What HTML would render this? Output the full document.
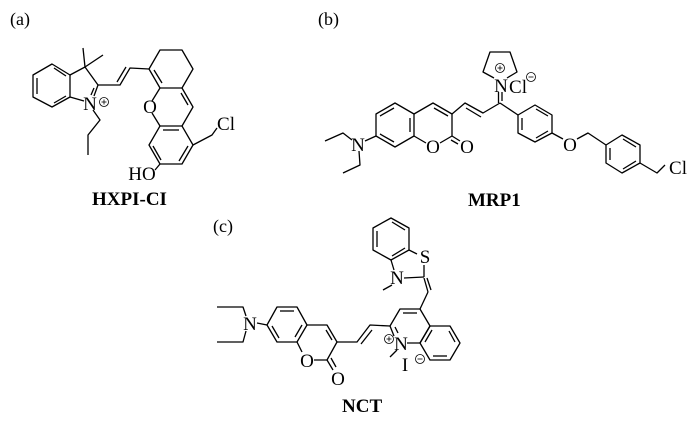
<!DOCTYPE html>
<html><head><meta charset="utf-8"><style>
html,body{margin:0;padding:0;background:#fff;}
svg{display:block;}
text{font-family:"Liberation Serif","Times New Roman",serif;fill:#000;}
.a{font-size:19px;text-anchor:middle;}
.b{font-size:19px;font-weight:bold;}
.l{font-size:18px;}
</style></head><body>
<svg width="700" height="427" viewBox="0 0 700 427" xmlns="http://www.w3.org/2000/svg">
<g fill="none" stroke="#000" stroke-width="1.3" stroke-linejoin="round">
<!-- (a) -->
<polygon points="52,64 70,75 70,97 52,107 33,97 33,75"/>
<line x1="37" y1="78" x2="37" y2="94"/><line x1="54" y1="68" x2="66" y2="76"/><line x1="66" y1="96" x2="54" y2="103"/>
<polyline points="70,75 85,67 98,85 94,96"/>
<line x1="94" y1="88" x2="91" y2="95"/>
<line x1="70" y1="97" x2="84" y2="101"/>
<line x1="85" y1="67" x2="83" y2="48"/><line x1="85" y1="67" x2="103" y2="55"/>
<polyline points="93,110 100,120 88,135 88,155"/>
<polyline points="98,85 120,85 130,68 149,69"/>
<line x1="117" y1="82" x2="126" y2="67"/>
<polyline points="149,69 160,50 182,50 193,69 182,88 160,88 149,69"/>
<line x1="154" y1="70" x2="162" y2="83"/>
<polyline points="160,88 152,101"/><polyline points="152,113 160,126"/>
<polyline points="182,88 193,107 182,126"/>
<line x1="181" y1="93" x2="188" y2="105"/>
<polygon points="160,126 182,126 193,145 182,164 160,164 149,145"/>
<line x1="163" y1="130" x2="179" y2="130"/><line x1="188" y1="146" x2="179" y2="161"/><line x1="161" y1="160" x2="153" y2="146"/>
<line x1="160" y1="164" x2="155" y2="170"/>
<polyline points="193,145 212,135 217,128"/>
<!-- (b) -->
<polygon points="395,103 414,114 414,136 395,147 376,136 376,114"/>
<line x1="380" y1="116" x2="394" y2="108"/><line x1="380" y1="134" x2="394" y2="142"/><line x1="410" y1="118" x2="410" y2="132"/>
<polyline points="414,114 433,103 452,114 452,136 440,143"/>
<line x1="414" y1="136" x2="426" y2="143"/>
<line x1="434" y1="108" x2="448" y2="116"/>
<line x1="452" y1="136" x2="460" y2="141"/><line x1="451" y1="140" x2="458" y2="144"/>
<line x1="376" y1="136" x2="365" y2="141"/>
<polyline points="352,140 343,133 325,141"/>
<polyline points="359,151 360,165 343,173"/>
<polyline points="452,114 465,103 483,113 500,103"/>
<line x1="466" y1="108" x2="481" y2="117"/>
<line x1="498.5" y1="103" x2="498.5" y2="92"/><line x1="502" y1="101" x2="502" y2="92"/>
<polyline points="494,78 483,72 490,52 510,52 517,72 507,78"/>
<line x1="500" y1="103" x2="518" y2="115"/>
<polygon points="518,115 535,105 552,115 552,133 535,142 518,133"/>
<line x1="536" y1="109" x2="548" y2="116"/><line x1="548" y1="131" x2="536" y2="138"/><line x1="522" y1="118" x2="522" y2="130"/>
<line x1="552" y1="133" x2="563" y2="139"/>
<polyline points="577,139 588,133 606,145"/>
<polygon points="606,145 622,135 640,145 640,163 622,173 606,163"/>
<line x1="623" y1="139" x2="636" y2="147"/><line x1="636" y1="161" x2="623" y2="169"/><line x1="610" y1="148" x2="610" y2="160"/>
<polyline points="640,163 657,173 665,165"/>
<!-- (c) -->
<polyline points="257,323 267,325"/>
<polyline points="246,316 243,307 217,307"/>
<polyline points="246,331 243,342 217,342"/>
<polygon points="277,307 297,307 307,325 297,342 277,342 267,325"/>
<line x1="280" y1="311" x2="294" y2="311"/><line x1="302" y1="325" x2="295" y2="337"/><line x1="279" y1="338" x2="272" y2="326"/>
<polyline points="307,325 327,325 337,342 327,360 314,360"/>
<line x1="297" y1="342" x2="302" y2="352"/>
<line x1="326" y1="330" x2="332" y2="340"/>
<line x1="327" y1="360" x2="333" y2="370"/><line x1="331" y1="358" x2="336" y2="367"/>
<polyline points="337,342 357,342 370,325 390,326"/>
<line x1="361" y1="344" x2="372" y2="330"/>
<polyline points="394,336 390,326 400,309 420,309 430,326 420,343 407,343"/>
<line x1="395" y1="327" x2="398" y2="333"/>
<line x1="403" y1="313" x2="417" y2="313"/>
<polygon points="420,343 430,326 450,326 460,343 450,360 430,360"/>
<line x1="449" y1="331" x2="455" y2="342"/><line x1="447" y1="356" x2="433" y2="356"/><line x1="425" y1="342" x2="432" y2="330"/>
<line x1="397" y1="350" x2="390" y2="357"/>
<line x1="420" y1="309" x2="428" y2="292"/>
<line x1="428" y1="292" x2="424" y2="278"/><line x1="431" y1="290" x2="427" y2="278"/>
<polygon points="391,218 409,228 409,250 391,260 373,250 373,228"/>
<line x1="392" y1="222" x2="405" y2="230"/><line x1="405" y1="248" x2="392" y2="256"/><line x1="377" y1="231" x2="377" y2="247"/>
<line x1="409" y1="250" x2="417" y2="254"/>
<line x1="424" y1="277" x2="424" y2="265"/>
<line x1="404" y1="278" x2="424" y2="277"/>
<line x1="391" y1="260" x2="394" y2="270"/>
<line x1="392" y1="285" x2="383" y2="290"/>
</g>
<g stroke="#000" stroke-width="0.8" fill="none">
<circle cx="104" cy="102" r="4.5"/><line x1="101.5" y1="102" x2="106.5" y2="102"/><line x1="104" y1="99.5" x2="104" y2="104.5"/>
<circle cx="500" cy="68" r="4.5"/><line x1="497.5" y1="68" x2="502.5" y2="68"/><line x1="500" y1="65.5" x2="500" y2="70.5"/>
<circle cx="531" cy="77" r="4.5"/><line x1="528.5" y1="77" x2="533.5" y2="77"/>
<circle cx="389" cy="339" r="4.5"/><line x1="386.5" y1="339" x2="391.5" y2="339"/><line x1="389" y1="336.5" x2="389" y2="341.5"/>
<circle cx="420" cy="359" r="4.5"/><line x1="417.5" y1="359" x2="422.5" y2="359"/>
</g>
<text class="l" x="10" y="25">(a)</text>
<text class="l" x="318" y="25">(b)</text>
<text class="l" x="213" y="232">(c)</text>
<text class="a" x="90" y="110">N</text>
<text class="a" x="150" y="113">O</text>
<text class="a" x="142" y="180">HO</text>
<text class="a" x="226" y="130">Cl</text>
<text class="b" x="92" y="205">HXPI-CI</text>
<text class="a" x="433" y="153">O</text>
<text class="a" x="467" y="153">O</text>
<text class="a" x="358" y="151">N</text>
<text class="a" x="501" y="92">N</text>
<text class="a" x="518" y="93">Cl</text>
<text class="a" x="570" y="151">O</text>
<text class="a" x="678" y="174">Cl</text>
<text class="b" x="468" y="206">MRP1</text>
<text class="a" x="250" y="330">N</text>
<text class="a" x="307" y="367">O</text>
<text class="a" x="338" y="385">O</text>
<text class="a" x="401" y="350">N</text>
<text class="a" x="405" y="371">I</text>
<text class="a" x="425" y="263">S</text>
<text class="a" x="397" y="284">N</text>
<text class="b" x="342" y="412">NCT</text>
</svg>
</body></html>
